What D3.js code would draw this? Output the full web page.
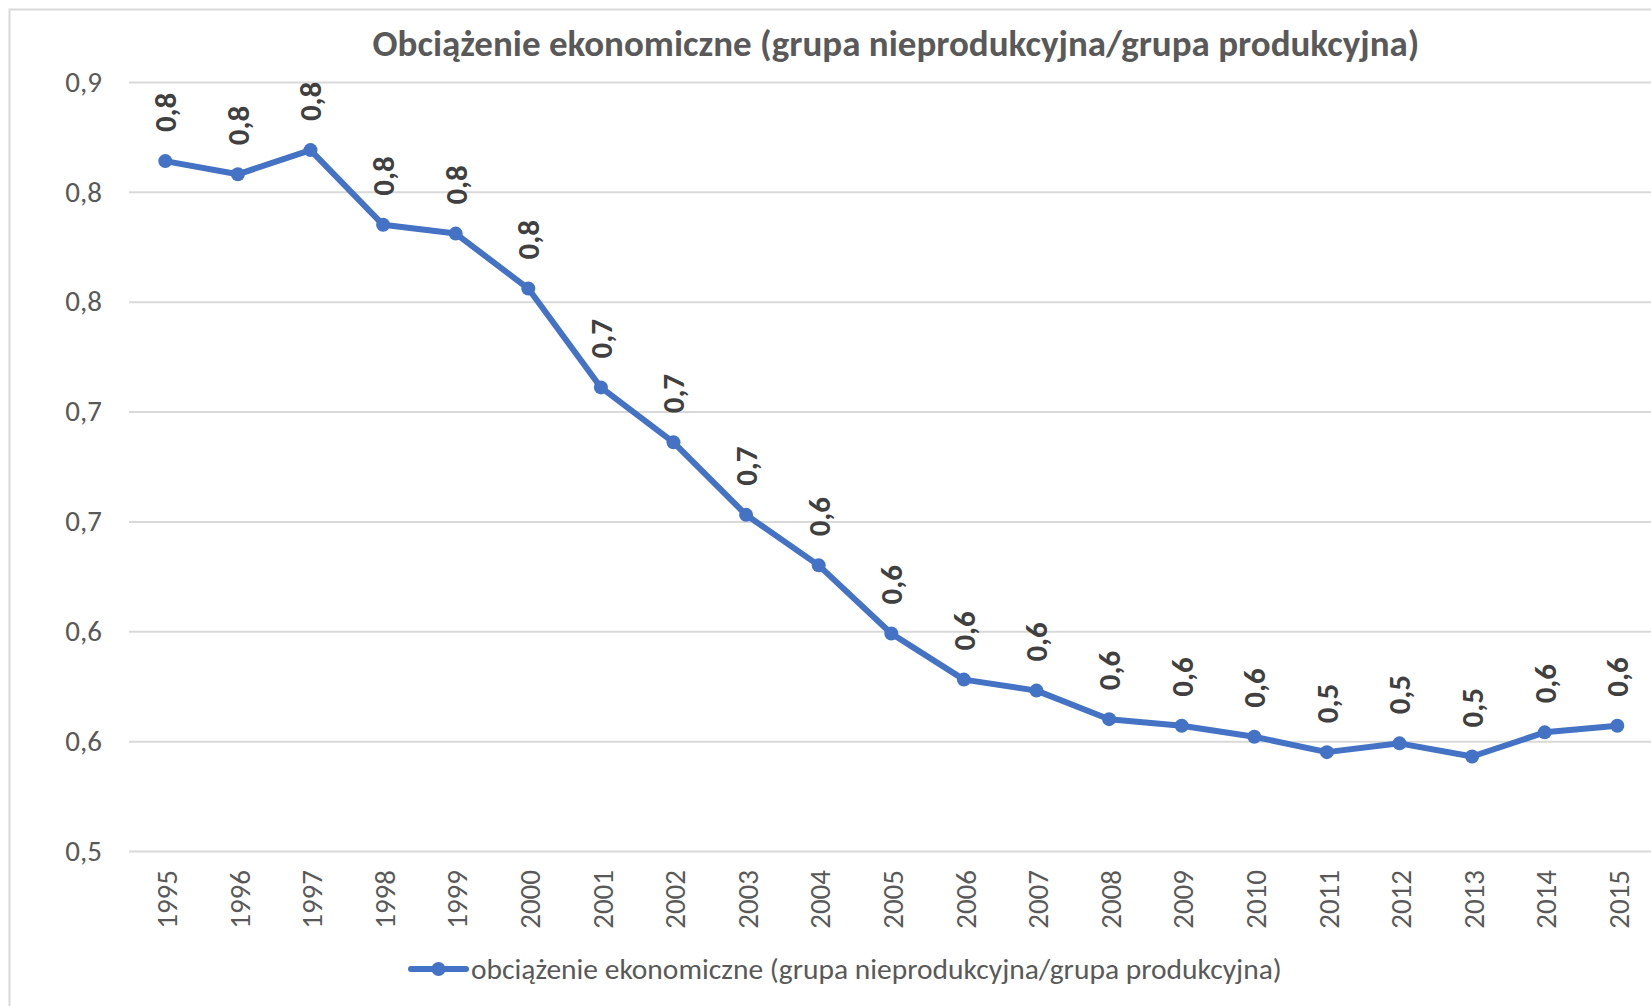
<!DOCTYPE html>
<html>
<head>
<meta charset="utf-8">
<script src="https://cdn.jsdelivr.net/npm/d3@7"></script>
<style>
  body { margin: 0; background: #fff; }
  text { font-family: Calibri, Carlito, Lato, sans-serif; }
</style>
</head>
<body>
<script>
// Obciążenie ekonomiczne 1995-2015, line chart with rotated labels

var years = ["1995", "1996", "1997", "1998", "1999", "2000", "2001", "2002", "2003", "2004",
             "2005", "2006", "2007", "2008", "2009", "2010", "2011", "2012", "2013", "2014", "2015"];
var values = [0.814, 0.808, 0.819, 0.785, 0.781, 0.756, 0.711, 0.686, 0.653, 0.630,
              0.599, 0.578, 0.573, 0.560, 0.557, 0.552, 0.545, 0.549, 0.543, 0.554, 0.557];
var yTicks = [0.5, 0.55, 0.6, 0.65, 0.7, 0.75, 0.8, 0.85];

var title = "Obciążenie ekonomiczne (grupa nieprodukcyjna/grupa produkcyjna)";
var seriesName = "obciążenie ekonomiczne (grupa nieprodukcyjna/grupa produkcyjna)";

var width = 1651,
    height = 1006;

var blue = "#4472C4",
    grey = "#595959";

// polish number format, rounded half up like the spreadsheet does
var pl = d3.formatLocale({decimal: ",", thousands: " ", grouping: [3], currency: ["", " zł"]});
var fmt1 = pl.format(".1f");
function lbl(d) { return fmt1(Math.round(d * 10 + 1e-9) / 10); }

var svg = d3.select("body")
            .append("svg")
            .attr("width", width)
            .attr("height", height);

svg.append("rect")
   .attr("width", "100%")
   .attr("height", "100%")
   .attr("fill", "white");

// chart frame (cropped on the right and bottom)
svg.append("rect")
   .attr("x", 9.5)
   .attr("y", 9.5)
   .attr("width", 1800)
   .attr("height", 1200)
   .attr("fill", "none")
   .attr("stroke", "#d9d9d9")
   .attr("stroke-width", 2);

var left = 129,
    right = 129 + 21 * 72.6;

var x = d3.scalePoint()
          .domain(years)
          .range([left, right])
          .padding(0.5);

var y = d3.scaleLinear()
          .domain([0.5, 0.85])
          .range([851, 82]);

// gridlines + y labels
var yAxis = svg.append("g")
   .attr("transform", "translate(" + left + ",0)")
   .call(d3.axisLeft(y)
           .tickValues(yTicks)
           .tickSize(-(right - left))
           .tickPadding(27)
           .tickFormat(lbl));

yAxis.select(".domain").remove();
yAxis.selectAll(".tick line")
     .attr("stroke", "#d9d9d9")
     .attr("stroke-width", 2);
yAxis.selectAll(".tick text")
     .attr("fill", grey)
     .style("font-size", "29px");

// x labels, rotated
var xAxis = svg.append("g")
   .attr("transform", "translate(0,851)")
   .call(d3.axisBottom(x).tickSize(0).tickPadding(0));

xAxis.select(".domain").remove();
xAxis.selectAll(".tick text")
     .attr("fill", grey)
     .style("font-size", "29px")
     .attr("text-anchor", "end")
     .attr("transform", "translate(1,19) rotate(-90)")
     .attr("x", 0)
     .attr("y", 0)
     .attr("dy", "0.35em");

// title
svg.append("text")
   .attr("x", 896)
   .attr("y", 56)
   .attr("text-anchor", "middle")
   .attr("fill", grey)
   .style("font-size", "37px")
   .style("font-weight", "bold")
   .text(title);

// the line
var line = d3.line()
             .x(function(d, i) { return x(years[i]); })
             .y(function(d) { return y(d); });

svg.append("path")
   .datum(values)
   .attr("d", line)
   .attr("fill", "none")
   .attr("stroke", blue)
   .attr("stroke-width", 6)
   .attr("stroke-linejoin", "round")
   .attr("stroke-linecap", "round");

svg.selectAll("circle.pt")
   .data(values)
   .enter()
   .append("circle")
   .attr("class", "pt")
   .attr("cx", function(d, i) { return x(years[i]); })
   .attr("cy", function(d) { return y(d); })
   .attr("r", 7)
   .attr("fill", blue);

// data labels
svg.selectAll("text.val")
   .data(values)
   .enter()
   .append("text")
   .attr("class", "val")
   .attr("transform", function(d, i) {
      return "translate(" + x(years[i]) + "," + (y(d) - 29) + ") rotate(-90)";
   })
   .attr("dy", "0.35em")
   .attr("fill", "#404040")
   .style("font-size", "31px")
   .style("font-weight", "bold")
   .text(lbl);

// legend
var lg = svg.append("g").attr("transform", "translate(411,969)");
lg.append("line")
  .attr("x1", 0).attr("x2", 55)
  .attr("stroke", blue)
  .attr("stroke-width", 6)
  .attr("stroke-linecap", "round");
lg.append("circle")
  .attr("cx", 27.5)
  .attr("r", 7)
  .attr("fill", blue);
lg.append("text")
  .attr("x", 60)
  .attr("dy", "0.35em")
  .attr("fill", grey)
  .style("font-size", "29.5px")
  .text(seriesName);
</script>
</body>
</html>
